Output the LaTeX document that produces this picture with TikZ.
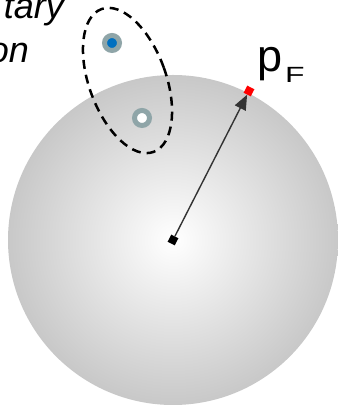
\documentclass[tikz,border=0pt]{standalone}
\usepackage{fontspec}
\usepackage{graphicx}
\setmainfont{Liberation Sans}
\usetikzlibrary{arrows.meta}
\definecolor{ringgrau}{RGB}{143,165,168}
\definecolor{punktblau}{RGB}{0,112,192}
\definecolor{kugelgrau}{RGB}{200,200,200}

\begin{document}
\begin{tikzpicture}[x=1pt,y=1pt,
    quadrat/.style={rectangle,inner sep=0pt,minimum size=8pt,rotate=63},
    teilchen/.style={circle,draw=ringgrau,line width=5pt,minimum size=15pt,inner sep=0pt}]
    \useasboundingbox (0,0) rectangle (337,406);
    % Fermikugel:
    \shade[inner color=white, outer color=kugelgrau] (173,166) circle (165);
    % Mitte und Rand:
    \node[quadrat, fill=black] (mitte) at (173,166) {};
    \node[quadrat, fill=red] (pf) at (249,315) {};
    \draw[-{Triangle[length=15pt,width=12pt]}, line width=1.4pt, black!80] (mitte) -- (pf);
    \node[anchor=base west, inner sep=0pt, font=\fontsize{45}{45}\selectfont] (pflabel) at (257,334)
        {p\raisebox{-11pt}{\fontsize{22}{22}\selectfont\hspace{3pt}\scalebox{1.45}[1]{F}}};
    % Anregung:
    \draw[line width=2.5pt, dash pattern=on 9pt off 6pt, rotate around={20:(127.5,325.5)}]
        (127.5,325.5) ellipse (38.5 and 76);
    \node[teilchen, fill=punktblau] (loch) at (112,363) {};
    \node[teilchen, fill=white] (teil) at (142,288) {};
    % Text (abgeschnitten):
    \node[anchor=base east, inner sep=0pt, font=\fontsize{36}{44}\selectfont\itshape] (text1) at (64,387) {tary};
    \node[anchor=base east, inner sep=0pt, font=\fontsize{36}{44}\selectfont\itshape] (text2) at (29,343) {on};
\end{tikzpicture}
\end{document}
